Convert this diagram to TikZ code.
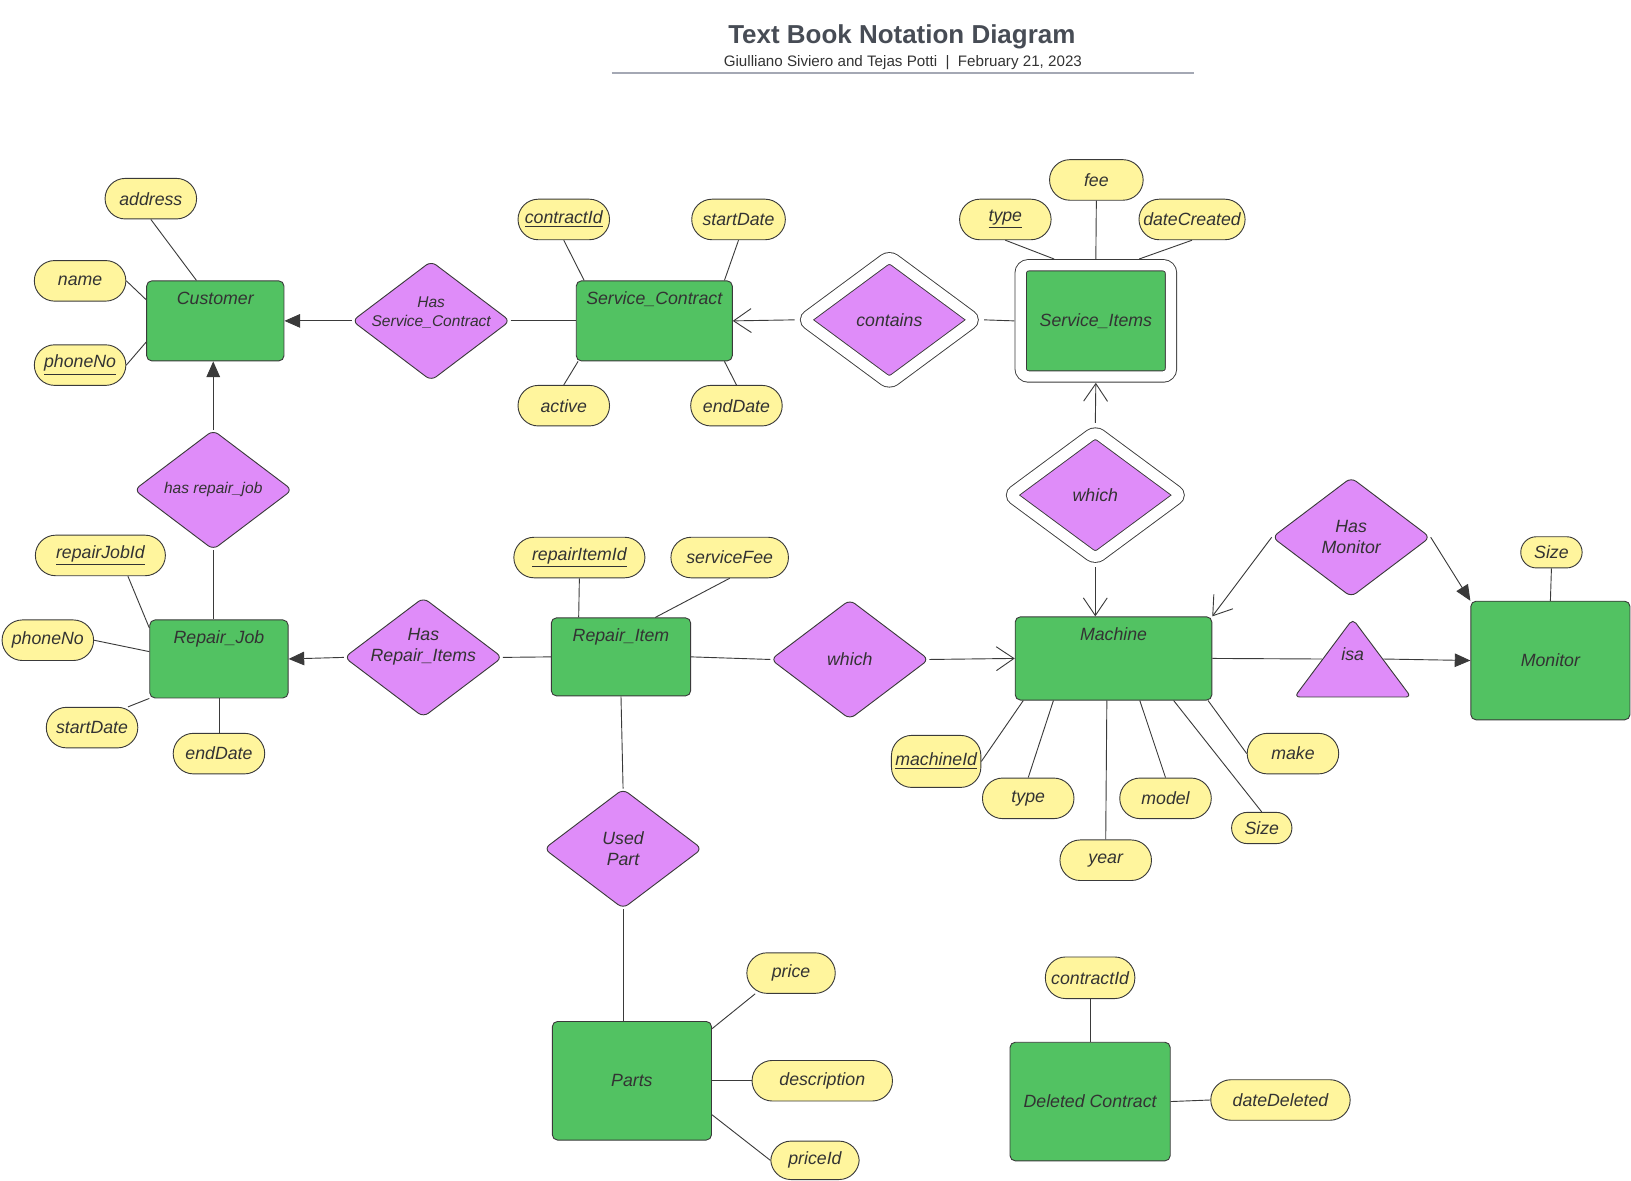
\documentclass[tikz,border=0pt]{standalone}
\usepackage{fontspec}
\setmainfont{Liberation Sans}
\usetikzlibrary{shapes.geometric,arrows.meta}
\definecolor{entc}{HTML}{52C262}
\definecolor{relc}{HTML}{DF8CF9}
\definecolor{attc}{HTML}{FFF59D}
\definecolor{lnc}{HTML}{3A3A3A}
\definecolor{txt}{HTML}{333333}
\definecolor{ttlc}{HTML}{474C55}
\definecolor{rulec}{HTML}{A4A8B4}
\begin{document}
\begin{tikzpicture}[x=0.2mm, y=-0.2mm, line width=0.5pt, color=lnc,
  every node/.style={text=txt, font=\fontsize{9.7}{11.4}\selectfont\itshape},
  ent/.style={draw=lnc, fill=entc, rounded corners=1mm, inner sep=0.5mm},
  tent/.style={ent, text height=2.6mm, text depth=#1, inner ysep=1.9mm},
  wk/.style={double=white, double distance=#1},
  rel/.style={diamond, draw=lnc, fill=relc, rounded corners=1.2mm, inner sep=0pt, minimum width=30.4mm, minimum height=23mm},
  rtxt/.style={align=center, inner sep=0pt},
  stxt/.style={rtxt, font=\fontsize{8.5}{10.2}\selectfont\itshape},
  att/.style={draw=lnc, fill=attc, rounded corners=3.9mm, inner sep=0.5mm, minimum width=17.6mm, minimum height=7.8mm},
  fa/.style={-{Triangle[length=3mm,width=2.6mm]}},
  oa/.style={-{Straight Barb[length=3.4mm,width=4.6mm]}}]
\useasboundingbox (0,0) rectangle (1568,1135);
\node[text=ttlc, font=\fontsize{14.2}{16}\selectfont\bfseries] (ttl) at (867,35.5) {Text Book Notation Diagram};
\node[font=\fontsize{8.3}{10}\selectfont] (sub) at (868,60.5) {Giulliano Siviero and Tejas Potti\ \ |\ \ February 21, 2023};
\draw[rulec, line width=0.9pt] (588,70) -- (1148,70);
\node[tent=9mm, minimum width=26.4mm, minimum height=15.4mm] (ent0) at (207,308.5) {Customer};
\node[tent=9mm, minimum width=30mm, minimum height=15.4mm] (ent1) at (629,308.5) {Service\_Contract};
\node[ent, wk=2mm, rounded corners=1.5mm, minimum width=28.9mm, minimum height=21.4mm, outer sep=1.2mm] (ent2) at (1053.5,308.5) {Service\_Items};
\node[tent=8.6mm, minimum width=26.6mm, minimum height=15mm] (ent3) at (210.5,633.5) {Repair\_Job};
\node[tent=8.6mm, minimum width=26.8mm, minimum height=15mm] (ent4) at (597,631.5) {Repair\_Item};
\node[tent=9.6mm, minimum width=37.8mm, minimum height=16mm] (ent5) at (1070.5,633) {Machine};
\node[ent, minimum width=30.6mm, minimum height=22.8mm] (ent6) at (1490.5,635) {Monitor};
\node[ent, minimum width=30.6mm, minimum height=22.8mm] (ent7) at (607.5,1039) {Parts};
\node[ent, minimum width=30.8mm, minimum height=22.8mm] (ent8) at (1048,1059) {Deleted Contract};
\node[rel, label={[stxt, yshift=1.6mm]center:Has\\Service\_Contract}] (rel0) at (414.5,308.5) {};
\node[rel, wk=2.1mm, minimum width=34mm, minimum height=25.4mm, outer sep=1.2mm, label={[rtxt]center:contains}] (rel1) at (855,307.5) {};
\node[rel, label={[stxt]center:has repair\_job}] (rel2) at (205,471) {};
\node[rel, wk=2.1mm, minimum width=34mm, minimum height=25.4mm, outer sep=1.2mm, label={[rtxt]center:which}] (rel3) at (1053,476) {};
\node[rel, label={[rtxt, yshift=2mm]center:Has\\Repair\_Items}] (rel4) at (407,632) {};
\node[rel, label={[rtxt]center:which}] (rel5) at (817,634) {};
\node[rel, label={[rtxt]center:Has\\Monitor}] (rel6) at (1299,516.5) {};
\node[isosceles triangle, shape border rotate=90, isosceles triangle stretches, draw=lnc, fill=relc, rounded corners=1mm, inner sep=0pt, minimum width=22.4mm, minimum height=15mm, label={[rtxt, yshift=2.6mm]center:isa}] (rel7) at (1300.5,642) {};
\node[rel, label={[rtxt]center:Used\\Part}] (rel8) at (599,816) {};
\node[att] (att0) at (145,191) {address};
\node[att] (att1) at (77,270) {name};
\node[att] (att2) at (77,351) {\underline{phoneNo}};
\node[att] (att3) at (542,211) {\underline{contractId}};
\node[att, minimum width=18mm] (att4) at (710,211) {startDate};
\node[att] (att5) at (542,390) {active};
\node[att] (att6) at (708,390) {endDate};
\node[att] (att7) at (966.5,211) {\underline{type}};
\node[att, minimum width=18mm] (att8) at (1054,173) {fee};
\node[att, minimum width=20.4mm] (att9) at (1146,211) {dateCreated};
\node[att, minimum width=25mm] (att10) at (96.5,534) {\underline{repairJobId}};
\node[att] (att11) at (46,615.5) {phoneNo};
\node[att] (att12) at (88.5,699.5) {startDate};
\node[att] (att13) at (210.5,724.5) {endDate};
\node[att, minimum width=25.2mm] (att14) at (557,536) {\underline{repairItemId}};
\node[att, minimum width=22.6mm] (att15) at (701.5,536) {serviceFee};
\node[att, minimum width=17.2mm, minimum height=10mm] (att16) at (900,732) {\underline{machineId}};
\node[att] (att17) at (988.5,767.5) {type};
\node[att] (att18) at (1063,827) {year};
\node[att] (att19) at (1120.5,767.5) {model};
\node[att, minimum width=11.6mm, minimum height=6mm, rounded corners=3mm] (att20) at (1213,796) {Size};
\node[att] (att21) at (1243,724.5) {make};
\node[att, minimum width=11.8mm, minimum height=6mm, rounded corners=3mm] (att22) at (1491.5,531) {Size};
\node[att, minimum width=17mm] (att23) at (760.5,935.5) {price};
\node[att, minimum width=27mm] (att24) at (790.5,1039) {description};
\node[att, minimum width=17mm, minimum height=7.4mm] (att25) at (783.5,1115.5) {priceId};
\node[att, minimum width=17.2mm, minimum height=8mm] (att26) at (1048,940) {contractId};
\node[att, minimum width=26.8mm] (att27) at (1231,1057.5) {dateDeleted};
\draw[](att0.south) -- (ent0.115);
\draw[](att1.east) -- (ent0.163);
\draw[](att2.east) -- (ent0.197);
\draw[](att3.south) -- (ent1.150);
\draw[](att4.south) -- (ent1.30);
\draw[](att5.north) -- (ent1.208);
\draw[](att6.north) -- (ent1.330);
\draw[](att7.south) -- (ent2.124);
\draw[](att8.south) -- (ent2.north);
\draw[](att9.south) -- (ent2.55);
\draw[](att10.323) -- (ent3.156);
\draw[](att11.east) -- (ent3.174);
\draw[](att12.30) -- (ent3.south west);
\draw[](att13.north) -- (ent3.south);
\draw[](att14.south) -- (ent4.137);
\draw[](att15.south) -- (ent4.49);
\draw[](att16.east) -- (ent5.205);
\draw[](att17.north) -- (ent5.215);
\draw[](att18.north) -- (ent5.261);
\draw[](att19.north) -- (ent5.302);
\draw[](att20.north) -- (ent5.325);
\draw[](att21.west) -- (ent5.336);
\draw[](att22.south) -- (ent6.north);
\draw[](att23.210) -- (ent7.33);
\draw[](att24.west) -- (ent7.east);
\draw[](att25.west) -- (ent7.337);
\draw[](att26.south) -- (ent8.north);
\draw[](att27.west) -- (ent8.east);
\draw[fa](rel0.west) -- (ent0.east);
\draw[](rel0.east) -- (ent1.west);
\draw[oa](rel1.west) -- (ent1.east);
\draw[](rel1.east) -- (ent2.west);
\draw[fa](rel2.north) -- (rel2.north |- ent0.south);
\draw[](rel2.south) -- (rel2.south |- ent3.north);
\draw[oa](rel3.north) -- (ent2.south);
\draw[oa](rel3.south) -- (rel3.south |- ent5.north);
\draw[fa](rel4.west) -- (ent3.east);
\draw[](rel4.east) -- (ent4.west);
\draw[](ent4.east) -- (rel5.west);
\draw[oa](rel5.east) -- (ent5.west);
\draw[oa](rel6.west) -- (ent5.north east);
\draw[fa](rel6.east) -- (ent6.north west);
\draw[](ent5.east) -- (rel7.164);
\draw[fa](rel7.16) -- (ent6.west);
\draw[](ent4.south) -- (rel8.north);
\draw[](rel8.south) -- (rel8.south |- ent7.north);
\end{tikzpicture}
\end{document}
